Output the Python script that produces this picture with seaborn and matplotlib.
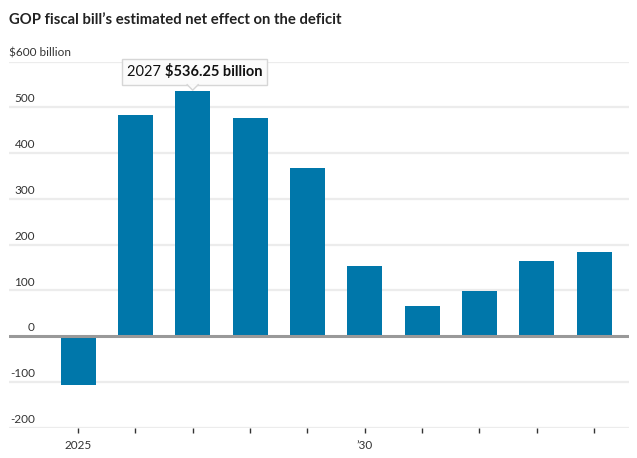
import matplotlib
matplotlib.use("Agg")
import matplotlib.pyplot as plt
import matplotlib.transforms as mtransforms
from matplotlib.patches import Rectangle, Polygon
import numpy as np
import pandas as pd
import seaborn as sns

# data (billions of dollars)
years = ["2025", "2026", "2027", "2028", "2029", "2030", "2031", "2032", "2033", "2034"]
deficit_effect = [-107, 484, 536.25, 476, 367, 153, 65, 98, 164, 183]
x_tick_labels = ["2025", "", "", "", "", "\u201930", "", "", "", ""]
y_grid = [-200, -100, 100, 200, 300, 400, 500, 600]
y_labels = ["-200", "-100", "100", "200", "300", "400", "500", "$600 billion"]
highlight_year = "2027"

BAR = "#0077aa"
TEXT = "#333333"
FONT = ["Lato", "DejaVu Sans"]

sns.set_style("white")
plt.rcParams["font.family"] = FONT

df = pd.DataFrame({"year": years, "value": deficit_effect})

fig = plt.figure(figsize=(6.37, 4.58), dpi=100)
ax = fig.add_axes([9 / 637, 1 - 427.7 / 458, 620 / 637, (427.7 - 61.5) / 458])

sns.barplot(data=df, x="year", y="value", color=BAR, saturation=1,
            width=0.61, linewidth=0, ax=ax, zorder=3)

ax.set_xlim(-1.204, 9.61)
ax.set_ylim(-200, 600)
for s in ax.spines.values():
    s.set_visible(False)

# gridlines and zero line
for v in y_grid:
    ax.axhline(v, color="#ececec", lw=1.6, zorder=1)
ax.axhline(0, color="#999999", lw=2.2, zorder=4)

# y labels sit above the gridlines, inside the plot
trans = mtransforms.blended_transform_factory(ax.transAxes, ax.transData)
for v, lab in zip(y_grid + [0], y_labels + ["0"]):
    if lab.startswith("$"):
        ax.annotate(lab, xy=(0, v), xycoords=trans, xytext=(0, 2),
                    textcoords="offset points", ha="left", va="bottom",
                    fontsize=8.5, color=TEXT)
    else:
        ax.annotate(lab, xy=(26 / 620, v), xycoords=trans, xytext=(0, 2),
                    textcoords="offset points", ha="right", va="bottom",
                    fontsize=8.5, color=TEXT)
ax.set_yticks([])
ax.set_ylabel("")
ax.set_xlabel("")

ax.set_xticks(range(len(years)))
ax.set_xticklabels(x_tick_labels, fontsize=8.5, color=TEXT)
ax.tick_params(axis="x", length=3.5, width=1, color="#333333", pad=5.5, bottom=True)

fig.text(9 / 637, 1 - 20 / 458, "GOP fiscal bill\u2019s estimated net effect on the deficit",
         fontsize=10.7, fontweight="bold", color="#222222", ha="left", va="center")

# tooltip over the highlighted bar
fig.canvas.draw()
i = years.index(highlight_year)
val = deficit_effect[i]
tip_x, tip_y = ax.transData.transform((i, val))
box_w, box_h = 145, 26
box_bottom = tip_y + 6
box_left = tip_x - box_w / 2 + 2
ident = mtransforms.IdentityTransform()
fig.patches.append(Rectangle((box_left, box_bottom), box_w, box_h, transform=ident,
                             facecolor="#fbfbfb", edgecolor="#d6d6d6", lw=1, zorder=10))
fig.patches.append(Polygon([(tip_x - 6, box_bottom + 0.5), (tip_x, box_bottom - 5.5),
                            (tip_x + 6, box_bottom + 0.5)], closed=False, transform=ident,
                           facecolor="#fbfbfb", edgecolor="#d6d6d6", lw=1, zorder=11))
t1 = fig.text(box_left + 5, box_bottom + box_h / 2, highlight_year + " ", transform=ident,
              fontsize=10.5, color="#111111", ha="left", va="center", zorder=12)
fig.canvas.draw()
ext = t1.get_window_extent()
fig.text(ext.x1, box_bottom + box_h / 2, "$%.2f billion" % val, transform=ident,
         fontsize=10.5, fontweight="bold", color="#111111", ha="left", va="center", zorder=12)

fig.savefig("out.png", dpi=100)
